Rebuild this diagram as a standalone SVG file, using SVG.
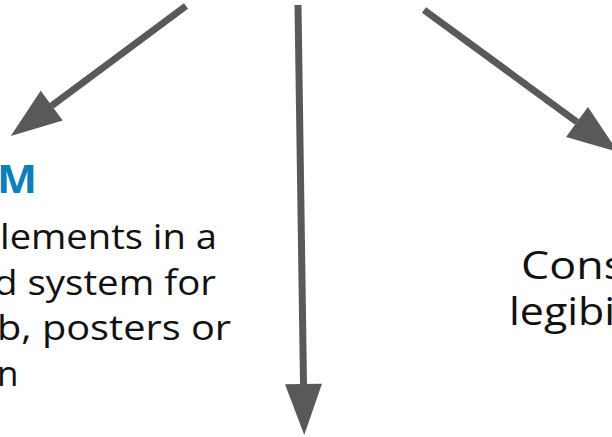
<svg xmlns="http://www.w3.org/2000/svg" width="612" height="437" viewBox="0 0 612 437">
  <defs>
    <marker id="ah" markerUnits="userSpaceOnUse" viewBox="0 0 51 37" refX="0" refY="18.5" markerWidth="51" markerHeight="37" orient="auto" overflow="visible">
      <path d="M0,0 L51,18.5 L0,37 Z" fill="#595959"/>
    </marker>
  </defs>
  <style>
    .conn { stroke: #595959; stroke-width: 7; fill: none; marker-end: url(#ah); }
    .body { font-family: "Open Sans", "Noto Sans", sans-serif; font-size: 35px; fill: #111111; }
    .big { font-size: 38px; }
    .head { font-family: "Open Sans", "Noto Sans", sans-serif; font-size: 39px; font-weight: 700; fill: #0b7fb8; }
  </style>
  <rect width="612" height="437" fill="#ffffff"/>
  <g id="connectors">
    <line class="conn" x1="186" y1="6" x2="51.7" y2="105.7"/>
    <line class="conn" x1="298" y1="5" x2="303.5" y2="384"/>
    <line class="conn" x1="424" y1="10" x2="577" y2="122"/>
  </g>
  <g id="node-left">
    <text class="head" x="-3" y="193" textLength="40" lengthAdjust="spacingAndGlyphs">M</text>
    <text class="body" x="0" y="249" textLength="217" lengthAdjust="spacingAndGlyphs">lements in a</text>
    <text class="body" x="-6" y="294.5" textLength="222" lengthAdjust="spacingAndGlyphs">d system for</text>
    <text class="body" x="-3" y="340" textLength="234" lengthAdjust="spacingAndGlyphs">b, posters or</text>
    <text class="body" x="-3" y="385.5">n</text>
  </g>
  <g id="node-right">
    <text class="body big" x="521" y="279" textLength="104" lengthAdjust="spacingAndGlyphs">Cons</text>
    <text class="body big" x="509" y="325" textLength="106" lengthAdjust="spacingAndGlyphs">legibi</text>
  </g>
</svg>
